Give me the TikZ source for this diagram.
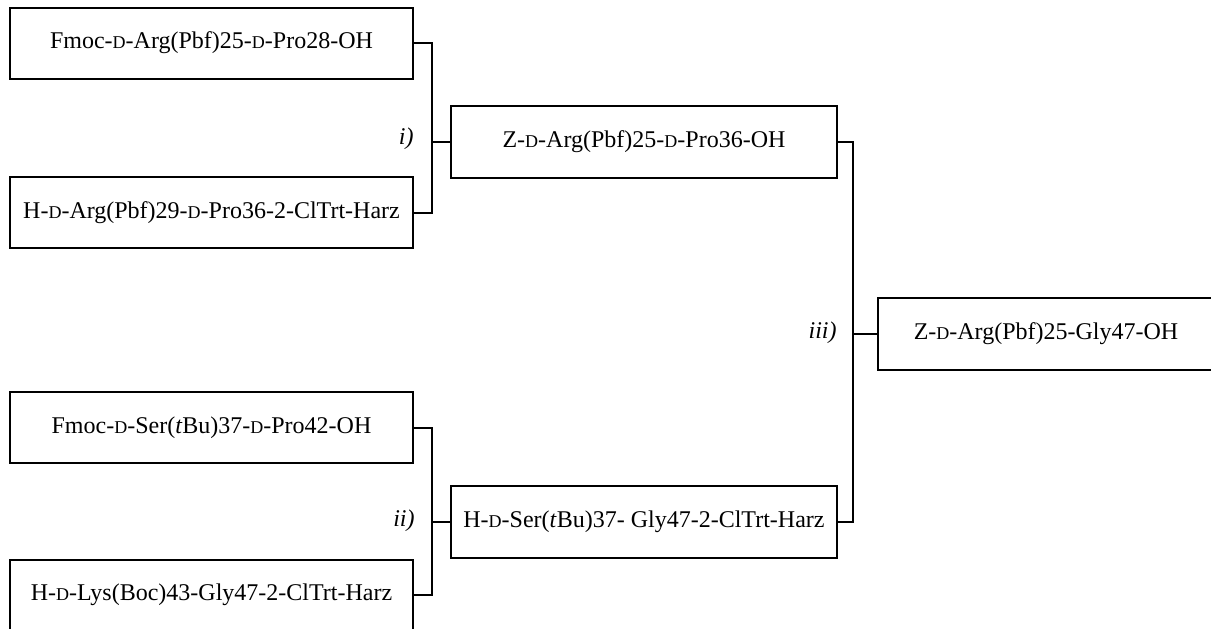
\documentclass[tikz,border=0pt]{standalone}
\usepackage{fontspec}
\setmainfont{Liberation Serif}
\newcommand{\Dsc}{{\fontsize{9pt}{10pt}\selectfont D}}
\begin{document}
\begin{tikzpicture}[x=0.5pt, y=-0.5pt, font=\fontsize{12pt}{14pt}\selectfont]
      \tikzset{wide box/.style={draw, line width=1pt, minimum width=201.5pt, minimum height=35.5pt, inner sep=0pt},
               mid box/.style={draw, line width=1pt, minimum width=193pt, minimum height=36pt, inner sep=0pt},
               join line/.style={line width=1pt},
               step label/.style={anchor=east, inner sep=0pt, font=\fontsize{12pt}{14pt}\selectfont\itshape}}
      \useasboundingbox (0, 0) rectangle (1211, 628);
      \clip (0, 0) rectangle (1211, 628);
      
      % Starting fragments
      \node[wide box] (fa) at (211.5, 43) {Fmoc-\Dsc-Arg(Pbf)25-\Dsc-Pro28-OH};
      \node[wide box] (fb) at (211.5, 212.5) {H-\Dsc-Arg(Pbf)29-\Dsc-Pro36-2-ClTrt-Harz};
      \node[wide box] (fd) at (211.5, 427.5) {Fmoc-\Dsc-Ser(\textit{t}Bu)37-\Dsc-Pro42-OH};
      \node[wide box] (fe) at (211.5, 595) {H-\Dsc-Lys(Boc)43-Gly47-2-ClTrt-Harz};
      
      % Coupled fragments
      \node[mid box] (fc) at (644, 141.5) {Z-\Dsc-Arg(Pbf)25-\Dsc-Pro36-OH};
      \node[mid box] (ff) at (644, 521.5) {H-\Dsc-Ser(\textit{t}Bu)37- Gly47-2-ClTrt-Harz};
      
      % Final product
      \node[mid box, minimum width=168pt, anchor=west] (fg) at (877, 333.5) {Z-\Dsc-Arg(Pbf)25-Gly47-OH};
      
      % Junction points
      \coordinate (j1) at (432, 141.5);
      \coordinate (j2) at (432, 521.5);
      \coordinate (j3) at (853, 333.5);
      
      % Step i)
      \draw[join line] (fa.east) -| (j1) |- (fb.east);
      \draw[join line] (j1) -- (fc.west);
      \node[step label] (s1) at (414, 139) {i)};
      
      % Step ii)
      \draw[join line] (fd.east) -| (j2) |- (fe.east);
      \draw[join line] (j2) -- (ff.west);
      \node[step label] (s2) at (415, 521) {ii)};
      
      % Step iii)
      \draw[join line] (fc.east) -| (j3) |- (ff.east);
      \draw[join line] (j3) -- (fg.west);
      \node[step label] (s3) at (837, 333) {iii)};
      
    \end{tikzpicture}
\end{document}
